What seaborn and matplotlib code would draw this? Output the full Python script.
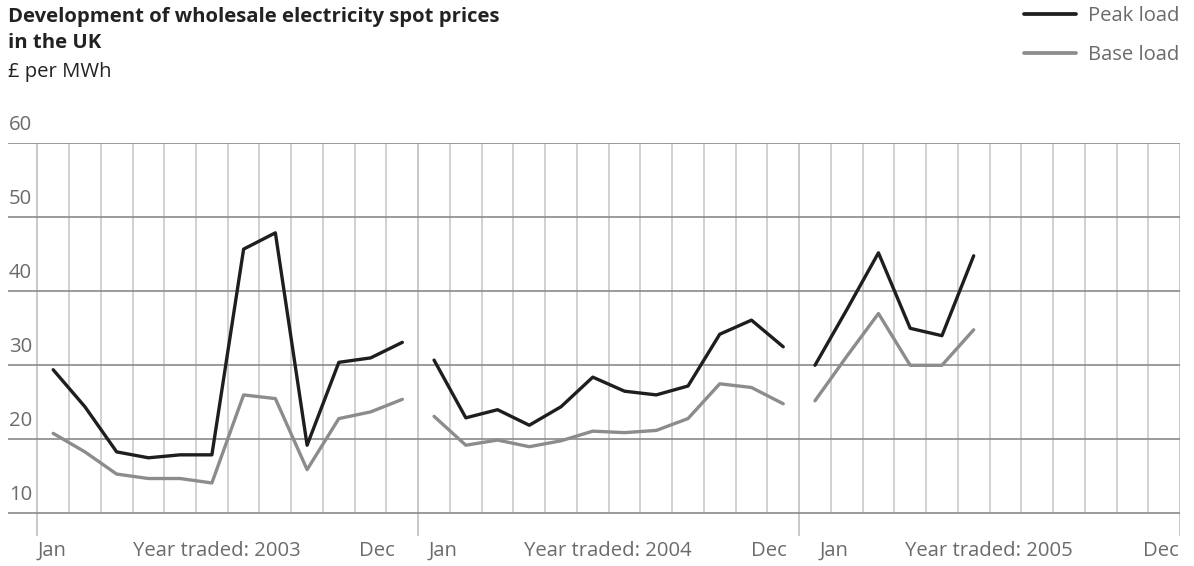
import numpy as np
import pandas as pd
import matplotlib
matplotlib.use("Agg")
import matplotlib.pyplot as plt
import seaborn as sns

# ---- data ----
years = [2003, 2004, 2005]
months = ["Jan", "Feb", "Mar", "Apr", "May", "Jun", "Jul", "Aug", "Sep", "Oct", "Nov", "Dec"]
peak_2003 = [29.4, 24.4, 18.3, 17.5, 17.9, 17.9, 45.7, 47.9, 19.2, 30.4, 31.0, 33.1]
base_2003 = [20.8, 18.3, 15.3, 14.7, 14.7, 14.1, 26.0, 25.5, 15.9, 22.8, 23.7, 25.4]
peak_2004 = [30.7, 22.9, 24.0, 21.9, 24.4, 28.4, 26.5, 26.0, 27.2, 34.2, 36.1, 32.5]
base_2004 = [23.1, 19.2, 19.9, 19.0, 19.8, 21.1, 20.9, 21.2, 22.8, 27.5, 27.0, 24.8]
peak_2005 = [30.0, 37.5, 45.2, 35.0, 34.0, 44.8]
base_2005 = [25.2, 31.2, 37.0, 30.0, 30.0, 34.8]
series_names = ["Peak load", "Base load"]
y_ticks = [10, 20, 30, 40, 50, 60]

peak = {2003: peak_2003, 2004: peak_2004, 2005: peak_2005}
base = {2003: base_2003, 2004: base_2004, 2005: base_2005}

rows = []
for yi, yr in enumerate(years):
    for name, src in zip(series_names, [peak, base]):
        for mi, v in enumerate(src[yr]):
            rows.append({"x": yi * 12 + mi + 0.5, "value": v, "series": name, "year": yr})
df = pd.DataFrame(rows)

# ---- style ----
sns.set_theme(style="white")
FONT = ["Open Sans", "DejaVu Sans"]
plt.rcParams["font.family"] = FONT
TXT = "#6b6b6b"
FS = 14.6
LW = 2.4

W, H = 1194, 566
fig = plt.figure(figsize=(W / 100, H / 100), dpi=100)

# axes in pixel layout
x0_px, x1_px = 8, 1180
top_px, bot_px = 143.3, 536
ax = fig.add_axes([x0_px / W, 1 - bot_px / H, (x1_px - x0_px) / W, (bot_px - top_px) / H])
px_per_month = (1180 - 37.3) / 36
xmin = -(37.3 - 8) / px_per_month
ymin = 10 - (bot_px - 513.3) / 7.4
ax.set_xlim(xmin, 36)
ax.set_ylim(ymin, 60)
for s in ax.spines.values():
    s.set_visible(False)
ax.set_xticks([])
ax.set_yticks([])

# vertical grid lines (months)
for m in range(1, 36):
    if m % 12 == 0:
        continue
    ax.plot([m, m], [10, 60], color="#c9c9c9", lw=1.2, zorder=1, solid_capstyle="butt")
# year separators
for m in [0, 12, 24, 36]:
    ax.plot([m, m], [ymin, 60], color="#c4c4c4", lw=1.3, zorder=1, solid_capstyle="butt")
# horizontal grid lines
for t in y_ticks:
    ax.plot([xmin, 36], [t, t], color="#8a8a8a", lw=1.2, zorder=1.5, solid_capstyle="butt")
    ax.text(xmin + 0.03, t + 2.45, str(t), ha="left", va="center", fontsize=FS, color=TXT,
            clip_on=False)

sns.lineplot(data=df, x="x", y="value", hue="series", units="year", estimator=None,
             hue_order=series_names, palette=["#1f1d1d", "#8c8c8c"], lw=LW, ax=ax,
             zorder=3)
ax.set_xlabel("")
ax.set_ylabel("")

# x labels
ylab = 10 - (551 - 513.3) / 7.4
jan_pos = [0.0, 12.33, 24.65]
mid_pos = [5.65, 17.97, 29.98]
dec_pos = [11.26, 23.6, 35.95]
for yi, yr in enumerate(years):
    ax.text(jan_pos[yi], ylab, months[0], ha="left", va="center", fontsize=FS, color=TXT, clip_on=False)
    ax.text(mid_pos[yi], ylab, f"Year traded: {yr}", ha="center", va="center", fontsize=FS, color=TXT, clip_on=False)
    ax.text(dec_pos[yi], ylab, months[-1], ha="right", va="center", fontsize=FS, color=TXT, clip_on=False)

# legend
h, l = ax.get_legend_handles_labels()
leg = ax.legend(h, l, loc="upper right", bbox_to_anchor=(1179 / W, 1 - 6 / H),
                bbox_transform=fig.transFigure, frameon=False, fontsize=FS,
                handlelength=2.6, handletextpad=0.55, labelspacing=0.95, borderpad=0,
                borderaxespad=0)
for t in leg.get_texts():
    t.set_color(TXT)
for ln in leg.get_lines():
    ln.set_linewidth(LW + 0.3)

# titles
fig.text(8 / W, 1 - 21.7 / H, "Development of wholesale electricity spot prices", ha="left",
         va="baseline", fontsize=FS, fontweight="bold", color="#222222")
fig.text(8 / W, 1 - 48.3 / H, "in the UK", ha="left", va="baseline", fontsize=FS,
         fontweight="bold", color="#222222")
fig.text(8 / W, 1 - 76.7 / H, "£ per MWh", ha="left", va="baseline", fontsize=FS,
         color="#222222")

fig.savefig("out.png", dpi=100)
